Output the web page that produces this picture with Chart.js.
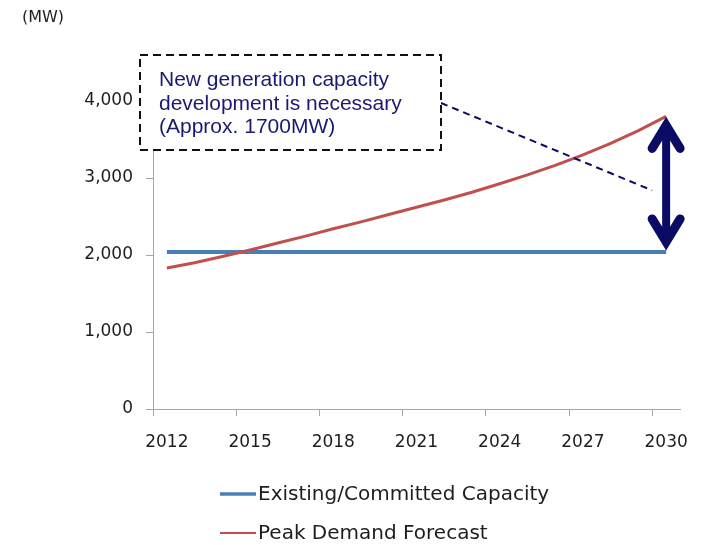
<!DOCTYPE html>
<html>
<head>
<meta charset="utf-8">
<script src="https://cdn.jsdelivr.net/npm/chart.js@4"></script>
<style>
  html, body { margin: 0; padding: 0; background: #fff; }
  #wrap { width: 713px; height: 545px; }
</style>
</head>
<body>
<div id="wrap"><canvas id="chart" width="713" height="545"></canvas></div>
<script>
const years = ['2012', '2013', '2014', '2015', '2016', '2017', '2018', '2019', '2020', '2021',
  '2022', '2023', '2024', '2025', '2026', '2027', '2028', '2029', '2030'];
const existingCapacity = [2040, 2040, 2040, 2040, 2040, 2040, 2040, 2040, 2040, 2040,
  2040, 2040, 2040, 2040, 2040, 2040, 2040, 2040, 2040];
const peakDemand = [1830, 1900, 1980, 2065, 2155, 2245, 2340, 2430, 2525, 2620,
  2715, 2815, 2925, 3040, 3165, 3300, 3450, 3615, 3800];
const yTicks = [0, 1000, 2000, 3000, 4000];
const labelStep = 3;
const calloutLines = ['New generation capacity', 'development is necessary', '(Approx. 1700MW)'];

const NAVY = '#0b0b63';
const AXIS_GRAY = '#a6a6a6';
const TEXT = '#1e1e1e';

// callout, leader line, gap arrow, unit label and the stacked legend
const overlay = {
  id: 'overlay',
  afterDraw(chart) {
    const ctx = chart.ctx;
    const xs = chart.scales.x, ys = chart.scales.y;
    const last = years.length - 1;
    const ax = xs.getPixelForValue(last);
    const yTop = ys.getPixelForValue(peakDemand[last]);
    const yBot = ys.getPixelForValue(existingCapacity[last]);

    ctx.save();

    // unit
    ctx.fillStyle = TEXT;
    ctx.font = '16px "DejaVu Sans"';
    ctx.textBaseline = 'middle';
    ctx.textAlign = 'left';
    ctx.fillText('(MW)', 22, 18);

    // leader line
    ctx.strokeStyle = NAVY;
    ctx.lineWidth = 2;
    ctx.setLineDash([7, 5]);
    ctx.beginPath();
    ctx.moveTo(441, 103);
    ctx.lineTo(ax - 14, ys.getPixelForValue(2840));
    ctx.stroke();

    // callout box
    ctx.setLineDash([8, 5]);
    ctx.fillStyle = '#fff';
    ctx.fillRect(140, 55, 301, 95);
    ctx.strokeStyle = '#111';
    ctx.strokeRect(140, 55, 301, 95);
    ctx.setLineDash([]);

    ctx.fillStyle = '#1a1a70';
    ctx.font = '21px "Liberation Sans"';
    ctx.textBaseline = 'alphabetic';
    calloutLines.forEach((t, i) => ctx.fillText(t, 159, 86 + i * 23.5));

    // double-headed arrow between demand and capacity in the last year
    ctx.strokeStyle = NAVY;
    ctx.lineWidth = 8;
    ctx.lineCap = 'butt';
    ctx.beginPath();
    ctx.moveTo(ax, yTop + 10);
    ctx.lineTo(ax, yBot - 10);
    ctx.stroke();
    ctx.lineWidth = 9;
    ctx.lineCap = 'round';
    ctx.lineJoin = 'miter';
    ctx.beginPath();
    ctx.moveTo(ax - 14, yTop + 32);
    ctx.lineTo(ax, yTop + 9);
    ctx.lineTo(ax + 14, yTop + 32);
    ctx.stroke();
    ctx.beginPath();
    ctx.moveTo(ax - 14, yBot - 33);
    ctx.lineTo(ax, yBot - 10);
    ctx.lineTo(ax + 14, yBot - 33);
    ctx.stroke();

    // legend
    const rows = [494, 533];
    const widths = [3.5, 2];
    ctx.lineCap = 'butt';
    ctx.font = '20px "DejaVu Sans"';
    ctx.textBaseline = 'middle';
    chart.data.datasets.forEach((ds, i) => {
      ctx.strokeStyle = ds.borderColor;
      ctx.lineWidth = widths[i];
      ctx.beginPath();
      ctx.moveTo(220, rows[i]);
      ctx.lineTo(256, rows[i]);
      ctx.stroke();
      ctx.fillStyle = TEXT;
      ctx.fillText(ds.label, 258, rows[i] + 1);
    });

    ctx.restore();
  }
};

Chart.defaults.font.family = '"DejaVu Sans"';
Chart.defaults.font.size = 16;
Chart.defaults.color = TEXT;

new Chart(document.getElementById('chart'), {
  type: 'line',
  data: {
    labels: years,
    datasets: [
      {
        label: 'Existing/Committed Capacity',
        data: existingCapacity,
        borderColor: '#4a7ebb',
        borderWidth: 4,
        pointRadius: 0,
        order: 1
      },
      {
        label: 'Peak Demand Forecast',
        data: peakDemand,
        borderColor: '#c0504d',
        borderWidth: 3,
        pointRadius: 0,
        order: 0
      }
    ]
  },
  options: {
    responsive: false,
    animation: false,
    devicePixelRatio: 1,
    layout: { padding: { top: 101, right: 33, bottom: 96, left: 0 } },
    plugins: {
      legend: { display: false },
      tooltip: { enabled: false }
    },
    scales: {
      x: {
        type: 'category',
        offset: true,
        afterFit(scale) { scale.height = 40; },
        grid: {
          offset: true,
          drawOnChartArea: false,
          tickLength: 7,
          color: c => (c.index % labelStep === 0 ? AXIS_GRAY : 'rgba(0,0,0,0)'),
          tickColor: c => (c.index % labelStep === 0 ? AXIS_GRAY : 'rgba(0,0,0,0)')
        },
        border: { color: AXIS_GRAY, width: 1 },
        ticks: {
          autoSkip: false,
          maxRotation: 0,
          padding: 16,
          font: { size: 17 },
          callback(value, index) {
            return index % labelStep === 0 ? this.getLabelForValue(value) : '';
          }
        }
      },
      y: {
        min: yTicks[0],
        max: yTicks[yTicks.length - 1],
        afterFit(scale) { scale.width = 153; },
        afterBuildTicks(scale) { scale.ticks = yTicks.map(v => ({ value: v })); },
        grid: {
          drawOnChartArea: false,
          tickLength: 7,
          color: AXIS_GRAY
        },
        border: { color: AXIS_GRAY, width: 1 },
        ticks: {
          padding: 13,
          font: { size: 17 },
          callback: v => v.toLocaleString('en-US')
        }
      }
    }
  },
  plugins: [overlay]
});
</script>
</body>
</html>
